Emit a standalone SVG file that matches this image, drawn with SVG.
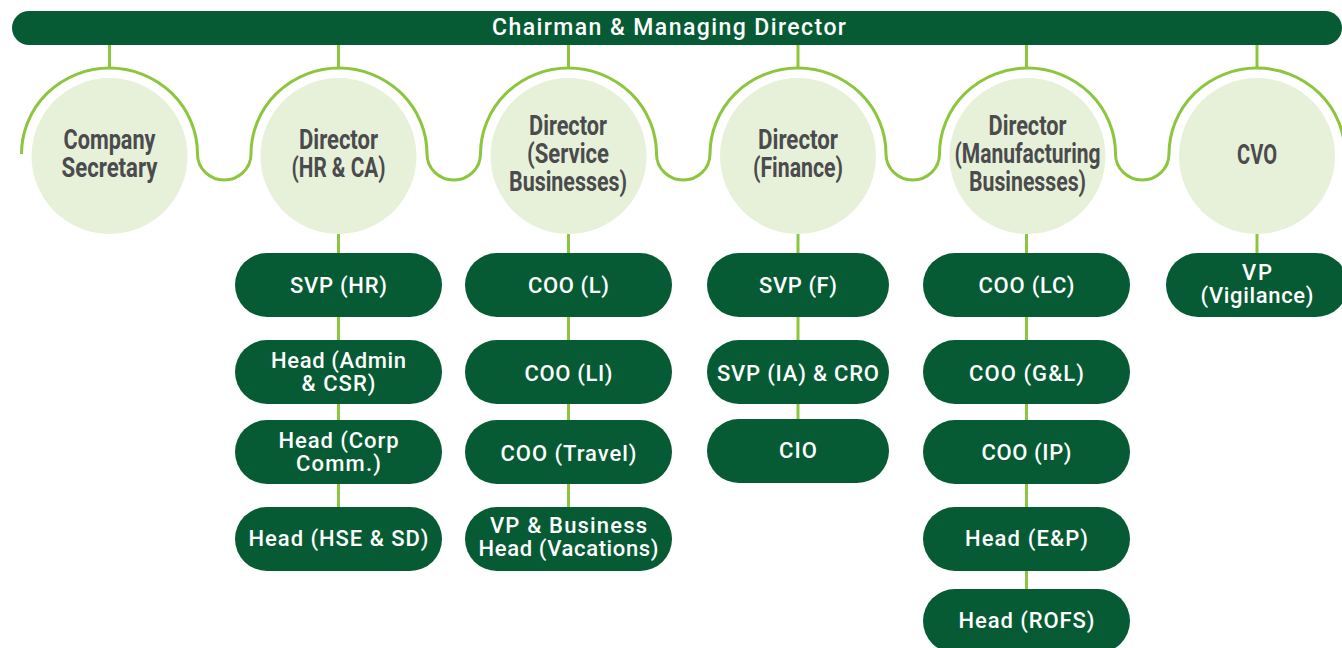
<svg xmlns="http://www.w3.org/2000/svg" width="1342" height="648" viewBox="0 0 1342 648">
  <style>
    .bar { fill: #065b35; }
    .link { stroke: #8cc63f; stroke-width: 3; fill: none; }
    .disc { fill: #e7f1d9; }
    .pill { fill: #065b35; }
    .ctext { font-family: "Roboto", "Liberation Sans", sans-serif; font-weight: 700; font-size: 27.5px; fill: #4b4b4d; text-anchor: middle; }
    .btext { font-family: "Roboto", "Liberation Sans", sans-serif; font-weight: 500; font-size: 22px; fill: #ffffff; text-anchor: middle; }
    .ttext { font-family: "Roboto", "Liberation Sans", sans-serif; font-weight: 500; font-size: 23px; fill: #ffffff; text-anchor: middle; }
  </style>

  <!-- top bar -->
  <g id="cmd">
    <rect class="bar" x="12" y="11" width="1330" height="34" rx="17"/>
    <text class="ttext" x="669" y="35" textLength="354">Chairman &amp; Managing Director</text>
  </g>

  <!-- connectors -->
  <g id="connectors">
    <path class="link" d="M21.5 154 A88 86 0 0 1 197.5 154 A26.75 26 0 0 0 251 154 A88 86 0 0 1 427 154 A26.75 26 0 0 0 480.5 154 A88 86 0 0 1 656.5 154 A26.75 26 0 0 0 710 154 A88 86 0 0 1 886 154 A26.75 26 0 0 0 939.5 154 A88 86 0 0 1 1115.5 154 A26.75 26 0 0 0 1169 154 A88 86 0 0 1 1345 154"/>
    <line class="link" x1="109.5" y1="45" x2="109.5" y2="68"/>
    <line class="link" x1="338.5" y1="45" x2="338.5" y2="68"/>
    <line class="link" x1="568.5" y1="45" x2="568.5" y2="68"/>
    <line class="link" x1="798" y1="45" x2="798" y2="68"/>
    <line class="link" x1="1026.5" y1="45" x2="1026.5" y2="68"/>
    <line class="link" x1="1257" y1="45" x2="1257" y2="68"/>
    <line class="link" x1="338.5" y1="234" x2="338.5" y2="507"/>
    <line class="link" x1="568.5" y1="234" x2="568.5" y2="507"/>
    <line class="link" x1="798" y1="234" x2="798" y2="419"/>
    <line class="link" x1="1026.5" y1="234" x2="1026.5" y2="589"/>
    <line class="link" x1="1257" y1="234" x2="1257" y2="253"/>
  </g>

  <!-- directors -->
  <g id="company-secretary">
    <circle class="disc" cx="109.5" cy="156" r="78"/>
    <text class="ctext" x="109.5" y="149" textLength="92" lengthAdjust="spacingAndGlyphs">Company</text>
    <text class="ctext" x="109.5" y="176.5" textLength="96" lengthAdjust="spacingAndGlyphs">Secretary</text>
  </g>
  <g id="director-hr">
    <circle class="disc" cx="338.5" cy="156" r="78"/>
    <text class="ctext" x="338.5" y="149" textLength="79" lengthAdjust="spacingAndGlyphs">Director</text>
    <text class="ctext" x="338.5" y="176.5" textLength="94" lengthAdjust="spacingAndGlyphs">(HR &amp; CA)</text>
  </g>
  <g id="director-service">
    <circle class="disc" cx="568.5" cy="156" r="78"/>
    <text class="ctext" x="568" y="135" textLength="78" lengthAdjust="spacingAndGlyphs">Director</text>
    <text class="ctext" x="568" y="163" textLength="82" lengthAdjust="spacingAndGlyphs">(Service</text>
    <text class="ctext" x="568" y="191" textLength="118" lengthAdjust="spacingAndGlyphs">Businesses)</text>
  </g>
  <g id="director-finance">
    <circle class="disc" cx="798" cy="156" r="78"/>
    <text class="ctext" x="798" y="149" textLength="80" lengthAdjust="spacingAndGlyphs">Director</text>
    <text class="ctext" x="798" y="176.5" textLength="90" lengthAdjust="spacingAndGlyphs">(Finance)</text>
  </g>
  <g id="director-manufacturing">
    <circle class="disc" cx="1027.5" cy="156" r="78"/>
    <text class="ctext" x="1027.5" y="135" textLength="78" lengthAdjust="spacingAndGlyphs">Director</text>
    <text class="ctext" x="1027.5" y="163" textLength="146" lengthAdjust="spacingAndGlyphs">(Manufacturing</text>
    <text class="ctext" x="1027.5" y="191" textLength="117" lengthAdjust="spacingAndGlyphs">Businesses)</text>
  </g>
  <g id="cvo">
    <circle class="disc" cx="1257" cy="156" r="78"/>
    <text class="ctext" x="1257" y="164" textLength="40" lengthAdjust="spacingAndGlyphs">CVO</text>
  </g>

  <!-- HR & CA reports -->
  <g id="svp-hr">
    <rect class="pill" x="235" y="253" width="207" height="64" rx="32"/>
    <text class="btext" x="338.5" y="292.5" textLength="97">SVP (HR)</text>
  </g>
  <g id="head-admin">
    <rect class="pill" x="235" y="340" width="207" height="64" rx="32"/>
    <text class="btext" x="338.5" y="367.7" textLength="135">Head (Admin</text>
    <text class="btext" x="338.5" y="390.7" textLength="74">&amp; CSR)</text>
  </g>
  <g id="head-corp">
    <rect class="pill" x="235" y="420" width="207" height="64" rx="32"/>
    <text class="btext" x="338.5" y="447.7" textLength="120">Head (Corp</text>
    <text class="btext" x="338.5" y="470.7" textLength="85">Comm.)</text>
  </g>
  <g id="head-hse">
    <rect class="pill" x="235" y="507" width="207" height="64" rx="32"/>
    <text class="btext" x="338.5" y="545.7" textLength="180">Head (HSE &amp; SD)</text>
  </g>

  <!-- Service Businesses reports -->
  <g id="coo-l">
    <rect class="pill" x="465" y="253" width="207" height="64" rx="32"/>
    <text class="btext" x="568.5" y="292.5" textLength="81">COO (L)</text>
  </g>
  <g id="coo-li">
    <rect class="pill" x="465" y="340" width="207" height="64" rx="32"/>
    <text class="btext" x="568.5" y="380.7" textLength="88">COO (LI)</text>
  </g>
  <g id="coo-travel">
    <rect class="pill" x="465" y="420" width="207" height="64" rx="32"/>
    <text class="btext" x="568.5" y="460.7" textLength="136">COO (Travel)</text>
  </g>
  <g id="vp-vacations">
    <rect class="pill" x="465" y="507" width="207" height="64" rx="32"/>
    <text class="btext" x="568.5" y="533.3" textLength="157">VP &amp; Business</text>
    <text class="btext" x="568.5" y="556" textLength="180">Head (Vacations)</text>
  </g>

  <!-- Finance reports -->
  <g id="svp-f">
    <rect class="pill" x="707" y="253" width="182" height="64" rx="32"/>
    <text class="btext" x="798" y="292.5" textLength="78">SVP (F)</text>
  </g>
  <g id="svp-ia">
    <rect class="pill" x="707" y="340" width="182" height="64" rx="32"/>
    <text class="btext" x="798" y="381" textLength="162">SVP (IA) &amp; CRO</text>
  </g>
  <g id="cio">
    <rect class="pill" x="707" y="419" width="182" height="64" rx="32"/>
    <text class="btext" x="798" y="457.7" textLength="38">CIO</text>
  </g>

  <!-- Manufacturing Businesses reports -->
  <g id="coo-lc">
    <rect class="pill" x="923" y="253" width="207" height="64" rx="32"/>
    <text class="btext" x="1026.5" y="292.5" textLength="96">COO (LC)</text>
  </g>
  <g id="coo-gl">
    <rect class="pill" x="923" y="340" width="207" height="64" rx="32"/>
    <text class="btext" x="1026.5" y="381" textLength="115">COO (G&amp;L)</text>
  </g>
  <g id="coo-ip">
    <rect class="pill" x="923" y="420" width="207" height="64" rx="32"/>
    <text class="btext" x="1026.5" y="460" textLength="90">COO (IP)</text>
  </g>
  <g id="head-ep">
    <rect class="pill" x="923" y="507" width="207" height="64" rx="32"/>
    <text class="btext" x="1026.5" y="545.7" textLength="123">Head (E&amp;P)</text>
  </g>
  <g id="head-rofs">
    <rect class="pill" x="923" y="589" width="207" height="64" rx="32"/>
    <text class="btext" x="1026.5" y="628.3" textLength="136">Head (ROFS)</text>
  </g>

  <!-- CVO report -->
  <g id="vp-vigilance">
    <rect class="pill" x="1166" y="253" width="182" height="64" rx="32"/>
    <text class="btext" x="1257" y="280" textLength="30">VP</text>
    <text class="btext" x="1257" y="303.3" textLength="113">(Vigilance)</text>
  </g>
</svg>
